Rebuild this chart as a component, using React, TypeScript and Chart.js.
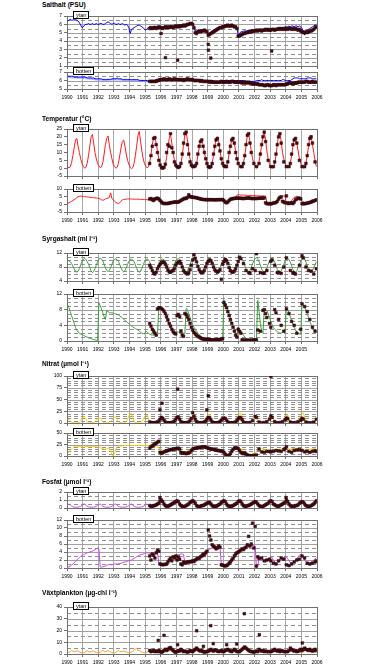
import React, { useEffect, useRef } from 'react';
import { Chart, registerables } from 'chart.js';
Chart.register(...registerables);

const FONT = 'Liberation Sans, Arial, sans-serif';
const YEAR_MIN = 1990;
const YEAR_MAX = 2006;
const LINE_START = 1990;
const OBS_START = 1995.25; // April 1995

// ---------- Salthalt (PSU) ----------
const SALT_YTAN_LINE = [
  6.4,6.5,6.6,6.5,6.5,6.6,6.6,6.5,6.4,6.2,5.9,5.6,
  5.7,5.9,6.0,6.0,6.1,6.0,6.0,6.1,6.0,6.0,6.1,6.0,
  6.0,6.1,6.1,6.0,6.0,6.1,6.2,6.3,6.2,6.1,6.0,6.1,
  6.1,6.0,6.0,6.1,6.0,6.0,6.1,6.0,5.9,6.0,5.9,5.6,
  4.9,5.4,5.5,5.6,5.7,5.8,5.9,5.9,5.8,5.7,5.6,5.4,
  5.3,5.5,5.6,5.7,5.7,5.6,5.7,5.8,5.7,5.6,5.7,5.8,
  5.7,5.6,5.7,5.8,5.7,5.8,5.7,5.8,5.8,5.7,5.8,5.9,
  5.8,5.9,5.9,6.0,5.9,6.0,6.0,6.0,6.1,6.1,6.1,6.2,
  6.1,5.8,5.2,5.1,5.3,5.3,5.2,5.3,5.3,5.4,5.3,5.2,
  4.8,4.9,5.1,5.2,5.3,5.4,5.5,5.6,5.6,5.7,5.7,5.8,
  5.8,5.8,5.9,5.9,5.9,5.8,5.9,5.9,5.8,5.8,5.6,4.7,
  4.9,5.1,5.1,5.2,5.2,5.2,5.2,5.3,5.2,5.3,5.3,5.3,
  5.3,5.4,5.3,5.4,5.4,5.3,5.4,5.4,5.5,5.4,5.5,5.4,
  5.4,5.5,5.5,5.4,5.5,5.5,5.6,5.5,5.6,5.6,5.6,5.7,
  5.7,5.7,5.8,5.7,5.8,5.8,5.7,5.8,5.8,5.7,5.8,5.7,
  5.5,5.2,4.7,5.0,5.3,5.4,5.5,5.6,5.7,5.8,5.9,6.0,
];
const SALT_YTAN_OBS = [
  5.5,5.6,5.5,5.6,5.6,5.5,5.6,5.7,5.6,
  5.6,5.5,5.6,5.7,5.6,5.7,5.6,5.7,5.7,5.6,5.7,5.8,
  5.7,5.8,5.7,5.8,5.8,5.9,5.8,5.9,6.0,6.0,6.1,6.1,
  6.0,5.6,5.0,4.9,5.1,5.2,5.1,5.2,5.2,5.3,5.2,5.1,
  4.7,4.8,4.9,5.0,5.1,5.2,5.3,5.4,5.5,5.6,5.6,5.7,
  5.7,5.8,5.8,5.9,5.8,5.8,5.9,5.8,5.7,5.7,5.5,4.6,
  4.6,4.7,4.8,4.9,4.9,5.0,5.0,5.1,5.1,5.1,5.2,5.2,
  5.2,5.3,5.2,5.3,5.3,5.2,5.3,5.3,5.4,5.3,5.4,5.3,
  5.3,5.4,5.4,5.3,5.4,5.4,5.5,5.4,5.5,5.4,5.5,5.4,
  5.5,5.4,5.5,5.5,5.4,5.5,5.4,5.5,5.4,5.3,5.4,5.2,
  5.1,5.0,5.0,5.1,5.0,5.1,5.2,5.2,5.3,5.4,5.6,5.7,
];
const SALT_YTAN_OUT_X = [1996.02, 1996.3, 1997.08, 1999.04, 1999.05, 1999.2, 2003.1];
const SALT_YTAN_OUT_Y = [4.9, 2.0, 1.7, 3.6, 2.9, 1.95, 2.8];

const SALT_BOT_LINE = [
  6.5,6.5,6.5,6.5,6.5,6.4,6.4,6.4,6.4,6.4,6.4,6.4,
  6.4,6.4,6.4,6.3,6.3,6.3,6.3,6.3,6.3,6.2,6.2,6.2,
  6.2,6.2,6.2,6.1,6.1,6.1,6.1,6.1,6.1,6.1,6.2,6.2,
  6.2,6.2,6.3,6.2,6.2,6.2,6.1,6.1,6.1,6.1,6.1,6.1,
  6.1,6.1,6.1,6.1,6.1,6.1,6.1,6.0,6.0,6.0,6.0,6.0,
  6.0,6.0,5.9,5.9,5.9,5.9,5.9,6.0,6.1,6.1,6.2,6.2,
  6.2,6.2,6.2,6.2,6.2,6.2,6.2,6.2,6.2,6.2,6.2,6.2,
  6.2,6.2,6.2,6.2,6.1,6.1,6.1,6.2,6.2,6.2,6.2,6.2,
  6.2,6.1,6.1,6.1,6.1,6.1,6.0,6.0,6.0,6.0,6.0,6.0,
  6.0,6.0,6.0,6.0,6.0,5.9,5.9,5.9,5.9,5.9,6.0,6.0,
  6.0,6.0,6.0,6.0,6.0,6.0,6.0,6.0,6.0,6.0,6.0,6.0,
  6.0,6.0,6.0,6.0,6.0,5.9,5.9,5.9,5.9,5.9,5.9,5.9,
  5.9,6.0,6.0,6.0,6.0,6.1,6.0,6.0,6.0,6.0,6.0,6.0,
  6.0,6.0,6.0,6.0,6.0,6.0,6.0,6.0,6.0,6.1,6.1,6.0,
  6.0,6.0,6.0,6.0,6.1,6.2,6.3,6.3,6.3,6.3,6.2,6.2,
  6.2,6.2,6.2,6.2,6.3,6.3,6.3,6.3,6.2,6.2,6.2,6.2,
];
const SALT_BOT_LIGHT_X = [1990.0, 1990.5, 1991.0, 1991.5, 1992.0, 1992.5, 1993.0, 1993.5, 1994.0, 1994.5, 1995.0, 1995.4];
const SALT_BOT_LIGHT_Y = [6.4, 6.35, 6.3, 6.2, 6.1, 6.1, 6.15, 6.1, 6.05, 6.0, 5.95, 5.9];
const SALT_BOT_OBS = [
  5.9,5.9,5.9,5.9,5.9,5.9,6.0,6.0,6.1,
  6.1,6.1,6.2,6.1,6.1,6.1,6.2,6.1,6.1,6.1,6.2,6.1,
  6.1,6.1,6.1,6.1,6.1,6.0,6.1,6.1,6.2,6.1,6.1,6.1,
  6.1,6.0,6.0,6.0,6.0,6.0,5.9,6.0,5.9,5.9,5.9,5.9,
  5.9,5.8,5.9,5.8,5.8,5.8,5.8,5.8,5.8,5.8,5.9,5.8,
  5.8,5.8,5.9,5.8,5.8,5.8,5.9,5.9,5.8,5.8,5.8,5.8,
  5.8,5.8,5.7,5.8,5.7,5.8,5.7,5.8,5.7,5.7,5.6,5.6,
  5.6,5.6,5.6,5.5,5.5,5.5,5.5,5.4,5.4,5.5,5.5,5.4,
  5.4,5.4,5.5,5.5,5.4,5.5,5.5,5.5,5.5,5.5,5.5,5.5,
  5.6,5.6,5.7,5.7,5.7,5.6,5.7,5.7,5.7,5.8,5.8,5.8,
  5.8,5.8,5.8,5.9,5.9,5.8,5.8,5.8,5.9,5.8,5.8,5.8,
];

// ---------- Temperatur (°C) ----------
const TEMP_YTAN_LINE = [
  1.0,0.2,0.8,3.5,8,13,18,19,14,10,6,3,
  1.2,0.0,0.5,3,8,14,20,21.5,16,10,6,3,
  1.5,0.3,0.8,3.5,9,15,19,20.5,15,10,6,2.5,
  1.0,0.0,0.5,3,8,13,17,18,14,9,5,2.5,
  0.5,-0.3,0.3,3,8,14,21,23.5,17,11,6,3,
  1.0,0.3,0.8,3.5,9,15,19,20,16,11,6,3,
  0.5,-0.5,0,2,7,13,19,21.5,16,10,5,2,
  0.5,0,0.5,3,8,15,21,23,18,11,6,3,
  1.5,0.5,1,3,8,13,17,18,15,10,6,3,
  1.0,0.2,0.5,3,8,14,19,20,17,11,6,3,
  1.5,0.5,1,4,9,14,18,19.5,16,11,6,3,
  1.0,0.3,0.5,3,8,14,21,22,17,11,6,3,
  1.0,0.2,0.8,4,9,15,21,23,18,11,6,2.5,
  0.5,0,0.3,3,8,15,21,22.5,17,10,6,3,
  1.0,0.3,0.5,3,8,14,18,19.5,16,11,6,3,
  1.0,0,0.3,3,8,14,20,21,15,10,5,1,
];
const TEMP_YTAN_OBS = [
  3,8,14,19,19.5,15,10,5,2,
  0.5,0,0.5,2.5,10,15,14,22,13,10,4,2,
  1,0.5,1,3,9,16,22,23,15,9,4,2,
  1,1,1.5,3,9,14,17,18,14,10,6,3,
  1,0.5,1,3,9,14,18,19,15,11,6,3,
  1.5,1,1,4,10,14,18,19,16,10,6,3,
  null,1,1,3,8,15,21,22,16,10,null,3,
  null,1,null,3,9,15,20,23,17,null,5,null,
  1,null,1,4,9,15,20,22,16,null,4,null,
  1,null,1,3,9,15,18,19,16,null,5,null,
  1,null,1,3,8,15,19,20,16,null,4,null,
];
const TEMP_BOT_LINE = [
  0.5,1,1.5,2,2.5,3,3.5,4.5,5,5.2,5.4,5.3,
  5.2,5,5,4.8,4.8,4.6,4.5,4.4,4.3,4.2,4.1,4,
  3.8,3.5,3,2.6,3,3.5,3.8,4,4.5,7.5,3.8,3,
  2,1.2,0.8,0.5,1,2,3,3.2,3.3,3.4,3.5,3.5,
  3.5,3.5,3.4,3.4,3.3,3.3,3.4,3.3,3.2,3.2,3.2,3.2,
  3.1,3,3,3,3.2,3.5,3.8,4,4.2,4,3.5,3,
  2.5,1.5,0.8,0.5,0.5,0.6,0.8,1,1.2,1.5,1.6,1.8,
  1.5,1.4,2,3,3.5,3.8,4,4.2,4.5,4.8,5,5.5,
  5,4.8,4.7,4.6,4.5,4.5,4,3.5,3.2,3,3,3,
  3,3,3,3,3,3,3,3,3.2,3.3,3.3,3.3,
  3,1.5,1,1.5,2.5,3.3,3.6,3.8,4,4.5,6,6.3,
  6.2,6.1,6,6,6,5.9,5.8,5.8,5.8,5.8,5.7,5.7,
  5.7,5.6,5.6,5.5,5.5,5.5,5.5,5.4,5.4,1.5,0.5,0,
  -0.5,0.5,1,1.5,2,2.5,3.5,5,5.5,5.5,5.5,5.3,
  0,-0.5,0.5,1.5,2.5,3.5,4.5,5,5.3,4.5,3.5,3,
  2.5,1.5,1,0.5,0.5,1,1.5,2,2.5,2.5,3,3,
];
const TEMP_BOT_OBS = [
  3.5,3.8,3,2.5,3.5,3.8,4,3.5,2.5,
  1.5,0.8,0.5,0.5,0.6,0.5,0.8,1,1.2,1.3,1.5,1.5,
  1.4,1.5,2,2.5,3,3.5,4,3.8,4.5,6.2,5,4.8,
  4.7,4.5,4.5,4.2,4,3.8,3.5,3.3,3.2,3.1,3,3,
  3,3,3,3,3,2.9,3,3,3,3,3.1,3.1,
  2.5,1.5,1,1.5,2.5,3.3,3.5,3.8,3.8,4,4,4,
  4,4,3.8,3.8,3.9,4,4,4.2,4,3.8,3.8,3.8,
  3.8,3.8,3.9,4,4,4.1,4,4.2,1,0.5,0.3,0.5,
  0.3,0.5,0.8,1,1.2,2,3.5,4.5,4.8,2,1.5,1,
  5.5,1,0.5,0.8,1,0.5,1.5,3,3.5,4,4,3.5,
  0.5,0.3,0.5,0.5,0.8,1,1.2,1.5,2,2.2,2.5,3,
];

// ---------- Syrgashalt (ml l-1) ----------
const SYR_YTAN_LINE = [
  9.9,9.8,9.5,9.0,8.3,7.5,6.8,6.5,6.8,7.6,8.6,9.6,
  10.2,10.4,10.2,9.6,8.8,7.8,6.9,6.4,6.7,7.5,8.5,9.5,
  10.2,10.5,10.3,9.7,8.8,7.8,7.0,6.7,7.0,7.8,8.8,9.7,
  10.2,10.3,10.1,9.6,8.7,7.7,7.0,6.6,6.9,7.7,8.7,9.6,
  10.1,10.2,10.0,9.5,8.6,7.6,6.8,6.5,6.8,7.6,8.6,9.5,
  10.0,10.3,10.1,9.5,8.6,7.6,6.8,6.6,6.9,7.7,8.7,9.6,
  10.1,10.3,10.1,9.5,8.6,7.5,6.8,6.5,6.9,7.8,8.8,9.7,
  10.2,10.4,10.2,9.5,8.5,7.4,6.7,6.5,6.9,7.8,8.8,9.7,
  10.3,10.6,10.3,9.6,8.6,7.5,6.8,6.6,7.0,7.9,8.8,9.7,
  10.2,10.4,10.2,9.5,8.5,7.4,6.7,6.5,6.9,7.8,8.8,9.7,
  10.2,10.4,10.2,9.5,8.5,7.4,6.7,6.5,6.9,7.8,8.8,9.7,
  10.3,10.5,10.2,9.5,8.5,7.4,6.7,6.6,7.0,7.9,8.9,9.8,
  10.4,10.6,10.3,9.5,8.5,7.4,6.7,6.5,6.9,7.8,8.8,9.7,
  10.2,10.4,10.1,9.4,8.4,7.3,6.7,6.5,6.9,7.8,8.8,9.7,
  10.2,10.4,10.1,9.4,8.4,7.3,6.7,6.5,6.9,7.8,8.8,9.7,
  10.3,10.6,10.2,9.4,8.4,7.3,6.7,6.5,6.9,7.8,8.7,9.5,
];
const SYR_YTAN_OBS = [
  8.5,7.8,7.0,6.2,6.0,6.5,7.5,8.2,8.8,
  9.2,9.5,9.3,8.8,8.0,7.2,6.6,6.5,6.8,7.0,7.5,8.5,
  9.0,9.4,9.6,9.0,8.0,7.0,6.5,6.2,6.0,6.3,7.2,8.5,
  10.0,11.5,10.5,9.5,8.2,7.2,6.6,6.4,6.5,7.0,8.0,9.0,
  9.6,10.0,9.8,9.0,8.0,7.2,6.8,6.5,6.8,7.2,4.5,8.8,
  9.5,10.2,9.8,9.0,7.8,7.0,6.6,6.5,6.8,7.5,8.5,9.6,
  10.8,10.4,null,9.0,null,7.0,null,6.4,6.2,null,7.5,null,
  7.0,11.8,null,null,6.4,null,6.2,6.3,null,7.0,null,null,
  9.6,10.0,null,8.5,null,6.4,6.5,null,6.2,null,8.0,null,
  10.6,null,null,7.0,null,6.4,6.2,6.0,null,null,8.5,null,
  11.2,10.6,null,8.0,null,7.0,null,6.8,null,6.0,null,7.5,
];
const SYR_BOT_LINE = [
  9.2,8.5,7.5,6.5,5.5,4.5,3.5,2.8,2.3,2.0,1.8,1.6,
  1.5,1.3,1.1,1.0,0.8,0.7,0.6,0.5,0.4,0.3,0.2,0.1,
  9.8,9.0,8.2,7.2,6.2,5.5,7.8,7.5,7.3,7.2,7.2,7.1,
  7.0,6.9,6.8,6.6,6.4,6.2,5.9,5.6,5.3,5.0,4.7,4.4,
  4.1,3.8,3.6,3.4,3.2,3.0,2.8,2.5,2.2,2.0,1.9,1.8,
  2.5,2.3,2.0,1.8,1.6,1.5,1.5,1.6,1.8,2.0,8.6,8.5,
  8.4,8.3,8.0,7.0,6.0,5.0,4.2,3.5,3.0,2.6,2.4,2.3,
  2.3,2.3,2.2,2.1,2.1,2.0,1.8,8.3,8.0,7.0,6.0,5.0,
  4.2,3.5,3.0,2.5,2.0,1.6,1.3,1.0,0.8,0.6,0.5,0.4,
  0.3,0.3,0.2,0.2,0.2,0.2,0.3,0.3,0.3,0.4,0.4,0.5,
  10.5,9.8,9.0,8.0,7.0,6.0,5.0,4.0,3.0,2.2,1.5,3.5,
  3.0,2.5,2.0,1.5,1.0,0.6,0.4,0.3,0.2,0.2,0.3,0.3,
  0.4,0.5,10.4,7.5,4.5,2.5,2.0,8.0,8.1,7.8,7.0,6.0,
  5.0,4.2,3.5,3.0,2.7,2.4,2.2,2.0,2.0,2.2,2.5,2.8,
  8.5,8.0,7.2,6.2,5.2,4.3,3.5,2.8,2.3,2.0,1.8,1.7,
  9.5,9.2,8.6,7.8,7.0,6.0,5.0,4.2,3.5,3.0,2.7,2.5,
];
const SYR_BOT_OBS = [
  4.5,3.8,3.0,2.5,2.0,1.5,8.2,8.5,8.4,
  8.3,8.0,7.6,7.0,6.2,5.4,4.5,3.8,3.0,2.4,2.0,1.8,
  6.5,6.8,6.2,2.5,1.5,1.2,7.0,6.8,6.2,5.5,4.5,3.5,
  2.8,2.2,1.8,1.5,1.2,1.0,0.8,0.6,0.5,0.5,0.4,0.5,
  0.4,0.3,0.3,0.3,0.2,0.3,0.3,0.4,0.3,0.4,0.5,0.6,
  9.8,9.2,8.5,7.5,6.5,5.5,4.5,3.5,2.5,1.5,1.0,3.0,
  2.5,2.0,0.3,0.2,0.2,0.2,0.2,0.2,0.2,0.2,0.2,0.3,
  0.2,0.3,2.8,null,2.5,null,7.8,8.0,7.0,6.0,null,4.5,
  3.5,null,null,8.0,7.2,null,5.5,null,4.0,null,2.5,null,
  8.2,null,7.0,null,5.0,null,4.0,null,2.0,null,null,3.0,
  9.5,null,8.8,null,7.5,null,5.5,null,3.5,null,2.5,null,
];

// ---------- Nitrat (µmol l-1) ----------
const NIT_YTAN_LINE = [
  7,8,5,2,0.5,0.3,0.2,0.3,1,2,5,10,
  13,14,9,3,0.5,0.3,0.2,0.3,1,3,6,9,
  10,11,7,2.5,0.5,0.3,0.2,0.3,1,3,6,10,
  12,13,8,3,0.5,0.3,0.2,0.3,1,3,8,15,
  19,20,12,4,1,0.3,0.2,0.3,1,3,7,13,
  16,17,10,3,0.5,0.3,0.2,0.3,1,2.5,5,8,
  9,10,6,2,0.5,0.3,0.2,0.3,1,3,6,10,
  12,13,8,3,0.5,0.3,0.2,0.3,1,3,6,9,
  11,12,7,2.5,0.5,0.3,0.2,0.3,1,3,8,15,
  18,19,12,4,1,0.3,0.2,0.3,1,3,6,10,
  11,12,7,2.5,0.5,0.3,0.2,0.3,1,3,8,16,
  20,21,13,4,1,0.3,0.2,0.3,1,3,6,10,
  12,13,8,3,0.5,0.3,0.2,0.3,1,3,7,13,
  16,17,10,3,0.5,0.3,0.2,0.3,1,3,7,13,
  16,17,10,3,0.5,0.3,0.2,0.3,1,3,8,16,
  20,21,13,4,1,0.3,0.2,0.3,1,3,6,9,
];
const NIT_YTAN_OBS = [
  2,1,0.5,0.5,0.5,1,2,4,8,
  12,10,6,2,0.5,0.5,0.5,0.5,1,2,4,8,
  12,13,8,3,1,0.5,0.5,0.5,1,2,5,10,
  22,14,8,3,1,0.5,0.5,0.5,1,2,4,8,
  12,11,7,2,0.5,0.5,0.5,0.5,1,3,6,9,
  10,10,6,2,0.5,0.5,0.5,0.5,1,2,5,9,
  12,11,7,2,null,0.5,0.5,null,1,null,5,null,
  14,12,null,2,null,0.5,null,1,null,3,null,8,
  15,12,null,3,null,0.5,null,1,null,3,null,7,
  10,9,null,2,null,0.5,null,1,null,3,null,6,
  10,8,null,2,null,0.5,null,0.5,null,2,null,8,
];
const NIT_YTAN_OUT_X = [1995.95, 1996.08, 1997.08, 1998.95, 1999.04, 2003.05];
const NIT_YTAN_OUT_Y = [28, 42, 72, 28, 58, 99];
const NIT_BOT_LINE = [
  6,9,12,15,18,20,21,20,20,21,20,20,
  20,20,21,21,20,20,20,21,21,21,20,20,
  19,18,17,16,15,15,16,17,18,12,3,0,
  5,15,20,21,22,22,22,22,23,23,23,23,
  23,23,23,23,23,23,23,23,23,23,23,23,
  23,23,23,23,22,22,22,21,20,19,18,15,
  10,8,9,10,12,13,14,15,15,16,16,16,
  15,12,10,8,7,8,9,10,11,12,13,14,
  15,16,17,18,18,19,19,19,19,18,18,17,
  17,16,16,15,15,14,14,13,13,12,12,12,
  11,8,5,2,3,6,9,12,15,17,18,18,
  17,16,14,10,7,5,4,3,3,3,4,5,
  6,10,14,16,17,17,16,15,14,13,13,13,
  12,12,12,13,13,14,14,15,15,15,16,16,
  16,16,15,15,15,16,16,17,17,17,16,16,
  15,14,13,12,12,13,14,15,16,17,16,14,
];
const NIT_BOT_OBS = [
  17,20,22,24,26,28,30,32,8,
  6,7,9,10,11,12,13,14,14,15,15,16,
  16,17,15,8,6,7,6,5,6,7,8,12,
  15,16,17,17,18,18,19,19,20,20,19,18,
  17,16,15,15,14,14,13,12,12,11,11,10,
  8,4,1,0.5,2,5,10,14,17,18,17,16,
  12,8,6,5,7,4,2,1,0.5,0.5,1,1,
  1,2,null,15,null,9,null,8,null,10,null,10,
  9,null,10,null,12,null,11,null,10,null,14,16,
  20,null,10,null,8,null,12,null,13,null,14,null,
  12,null,9,null,10,null,8,null,10,null,11,10,
];

// ---------- Fosfat (µmol l-1) ----------
const FOS_YTAN_LINE = [
  0.35,0.5,0.4,0.25,0.15,0.1,0.1,0.1,0.1,0.15,0.2,0.3,
  0.45,0.5,0.35,0.2,0.15,0.1,0.1,0.1,0.1,0.15,0.2,0.3,
  0.45,0.5,0.35,0.2,0.15,0.1,0.1,0.1,0.1,0.15,0.2,0.3,
  0.45,0.5,0.35,0.2,0.15,0.1,0.1,0.1,0.1,0.15,0.2,0.3,
  0.45,0.5,0.35,0.2,0.15,0.1,0.1,0.1,0.1,0.15,0.2,0.3,
  0.45,0.5,0.35,0.2,0.15,0.15,0.15,0.2,0.25,0.35,0.45,0.6,
  0.7,0.8,0.6,0.35,0.2,0.15,0.15,0.2,0.25,0.35,0.45,0.6,
  0.7,0.75,0.55,0.3,0.2,0.15,0.15,0.2,0.25,0.35,0.5,0.6,
  0.75,0.8,0.6,0.35,0.2,0.15,0.15,0.2,0.25,0.35,0.45,0.6,
  0.7,0.75,0.55,0.3,0.2,0.15,0.15,0.2,0.25,0.35,0.5,0.65,
  0.75,0.8,0.6,0.35,0.2,0.15,0.15,0.2,0.25,0.35,0.5,0.65,
  0.8,0.85,0.6,0.35,0.2,0.15,0.15,0.2,0.25,0.35,0.5,0.7,
  0.85,0.9,0.6,0.35,0.2,0.15,0.15,0.2,0.25,0.35,0.5,0.65,
  0.75,0.8,0.6,0.35,0.2,0.15,0.15,0.2,0.25,0.35,0.5,0.65,
  0.8,0.85,0.6,0.35,0.2,0.15,0.15,0.2,0.25,0.35,0.5,0.65,
  0.8,0.85,0.6,0.35,0.2,0.15,0.15,0.2,0.25,0.35,0.5,0.7,
];
const FOS_YTAN_OBS = [
  0.3,0.2,0.2,0.3,0.3,0.4,0.5,0.6,0.9,
  1.0,0.8,0.5,0.3,0.2,0.2,0.3,0.4,0.5,0.6,0.7,0.8,
  0.9,0.8,0.5,0.3,0.2,0.2,0.2,0.3,0.4,0.5,0.7,0.8,
  0.9,0.8,0.6,0.3,0.2,0.2,0.2,0.3,0.3,0.4,0.5,0.6,
  0.7,0.7,0.5,0.3,0.2,0.2,0.2,0.3,0.4,0.5,0.7,0.8,
  0.9,0.8,0.5,0.3,0.2,0.2,0.2,0.3,0.4,0.5,0.6,0.8,
  0.9,0.8,0.5,0.3,0.2,0.2,0.3,0.3,0.4,0.5,0.6,0.7,
  0.8,0.7,0.5,0.3,0.2,0.2,0.2,0.3,0.4,0.5,0.6,0.8,
  0.9,0.8,0.5,0.4,0.3,0.2,0.2,0.3,0.4,0.5,0.6,0.7,
  1.0,0.8,0.5,0.3,0.2,0.2,0.2,0.3,0.3,0.4,0.6,0.7,
  0.8,0.7,0.5,0.3,0.2,0.2,0.2,0.3,0.4,0.5,0.7,0.9,
];
const FOS_YTAN_OUT_X = [1995.95, 2004.02];
const FOS_YTAN_OUT_Y = [1.3, 1.3];
const FOS_BOT_LINE = [
  0.2,0.3,0.5,0.7,1.0,1.3,1.6,2.0,2.3,2.6,2.9,3.1,
  3.3,3.5,3.6,3.8,3.9,4.0,4.1,4.2,4.4,4.6,4.8,5.0,
  4.8,0.3,0.2,0.3,0.4,0.5,0.6,0.8,0.9,0.8,0.8,0.9,
  1.0,1.0,1.0,1.1,1.1,1.2,1.3,1.4,1.5,1.6,1.7,1.8,
  1.9,2.0,2.2,2.4,2.6,2.8,3.0,3.2,3.3,3.4,3.5,3.6,
  3.7,3.8,3.8,3.7,3.6,3.7,3.8,3.9,4.0,4.0,1.0,0.9,
  0.9,0.9,0.9,1.0,1.2,1.5,1.8,2.1,2.4,2.7,2.9,3.1,
  3.2,3.3,3.4,3.5,3.5,3.4,1.2,1.4,1.6,1.7,1.8,1.9,
  1.9,2.0,2.0,2.1,2.3,2.5,2.8,3.1,3.4,3.7,4.0,4.3,
  4.5,4.7,4.9,5.0,5.1,5.2,5.3,5.3,5.4,5.4,0.9,0.8,
  0.7,0.6,0.6,0.7,1.0,1.4,1.8,2.2,2.6,3.0,3.4,3.8,
  4.1,4.4,4.6,4.8,5.0,5.1,5.2,5.3,5.4,5.5,5.6,5.6,
  5.5,0.0,0.5,2.3,2.6,2.4,2.0,1.6,1.4,1.6,2.0,2.5,
  2.8,2.6,2.0,1.5,1.2,1.2,1.4,1.7,2.0,2.3,2.6,2.8,
  2.7,2.3,1.8,1.4,1.2,1.3,1.6,2.0,2.4,2.8,3.2,3.4,
  3.2,2.6,2.0,1.5,1.2,1.1,1.2,1.4,1.7,2.0,2.3,2.6,
];
const FOS_BOT_OBS = [
  3.0,2.0,3.5,3.2,2.5,3.8,4.5,4.2,1.0,
  0.9,0.8,0.9,0.9,1.0,1.5,2.0,2.5,1.8,2.8,2.5,3.0,
  2.0,2.8,2.2,1.0,0.8,1.5,1.2,1.4,1.5,1.6,1.5,1.6,
  1.8,1.6,2.0,2.2,2.5,2.4,2.8,3.0,3.5,3.2,3.8,4.2,
  9.5,8.0,7.0,5.8,5.4,5.2,4.8,5.0,5.5,5.2,0.8,0.7,
  0.6,0.5,0.6,0.8,1.2,1.5,2.0,2.4,3.0,3.5,3.8,4.0,
  4.2,4.5,4.8,4.6,5.0,5.2,5.8,7.9,5.5,6.0,11.2,5.0,
  10.4,0.5,2.8,2.4,null,2.5,null,1.8,null,2.0,null,2.2,
  1.8,null,1.2,null,1.0,null,1.8,null,2.5,null,2.2,null,
  0.8,null,0.6,null,1.0,null,1.5,null,2.0,null,2.2,null,
  3.0,null,2.5,null,1.2,null,1.0,null,1.2,null,1.5,1.8,
];

// ---------- Växtplankton (µg-chl l-1) ----------
const VAX_LINE = [
  1.5,1.2,2.0,3.0,2.5,2.0,2.2,2.8,2.4,1.8,1.2,1.0,
  1.0,1.2,2.2,2.8,2.0,1.8,2.0,2.6,2.2,1.6,1.2,1.0,
  1.2,1.4,2.5,3.2,2.4,2.0,2.4,3.0,2.4,1.8,1.3,1.1,
  1.0,1.3,2.4,3.0,2.2,1.9,2.2,2.7,2.3,1.7,1.2,1.0,
  1.1,1.4,2.6,3.5,4.0,5.2,3.2,2.8,2.4,1.8,1.3,1.1,
  1.2,1.5,2.5,3.2,2.5,2.1,2.4,2.9,2.4,1.8,1.3,1.1,
  1.1,1.4,2.6,3.4,2.6,2.2,2.5,3.0,2.5,1.8,1.3,1.1,
  1.2,1.5,2.7,3.3,2.5,2.1,2.5,3.1,2.6,1.9,1.4,1.2,
  1.2,1.5,2.6,3.2,2.5,2.2,2.6,3.0,2.5,1.8,1.3,1.1,
  1.1,1.4,2.5,3.1,2.4,2.0,2.4,2.9,2.4,1.8,1.3,1.1,
  1.2,1.5,2.7,3.4,2.6,2.2,2.5,3.0,2.5,1.9,1.4,1.2,
  1.3,1.6,3.0,3.8,4.5,3.5,3.0,3.4,2.8,2.0,1.5,1.2,
  1.3,1.6,2.8,3.5,2.8,2.4,2.7,3.2,2.6,1.9,1.4,1.2,
  1.2,1.5,2.6,3.3,2.6,2.2,2.5,3.0,2.5,1.8,1.3,1.1,
  1.2,1.5,2.7,3.5,2.8,2.3,2.6,3.1,2.6,1.9,1.4,1.2,
  1.3,1.6,2.8,3.6,2.8,2.4,2.7,3.2,2.6,1.9,1.4,1.2,
];
const VAX_OBS = [
  3,2,2.5,3,2,2.5,2,3,2,
  1.5,2,3,4,3,4,5,5.5,4,3,2,1.5,
  2,3,2.5,4,3,2,2.5,2,1.5,2,3,2.5,
  2,3,4,5,4,3,2.5,3,2,1.5,2,2,
  2.5,3,4,3,2.5,3.5,3,2.5,2,2.5,3,2,
  2,3,3.5,4,3,2.5,2,3,4,3,2,2,
  2,3,4,5,6,5,4,3,2.5,2,2,1.5,
  2,2.5,2,4,3,2.5,3,2,2.5,2,2,2,
  2,2.5,3,4,3,2.5,3,2,3,2.5,2,2,
  2,2,3,5,4,3,2.5,3,2,2.5,3,4,
  3,4,5,4,3.5,3,4,3,2.5,3,4,3,
];
const VAX_OUT_X = [1995.84, 1996.21, 1997.08, 1998.3, 1998.73, 1999.2, 1999.36, 2000.22, 2000.86, 2001.35, 2002.31, 2005.06];
const VAX_OUT_Y = [11.6, 15.9, 7.9, 19.8, 6.5, 24.1, 8.8, 7.9, 8.5, 34.3, 16.4, 9.4];

// ---------- helpers ----------
type Pt = { x: number; y: number | null };
const monthly = (start: number, vals: (number | null)[]): Pt[] =>
  vals.map((v, i) => ({ x: start + (i + 0.5) / 12, y: v }));
const pairs = (xs: number[], ys: number[]): Pt[] => xs.map((x, i) => ({ x, y: ys[i] }));

const POINT_COLOR = '#4a0c12';
const PT = 6; // padding above plot

type Panel = {
  top: number; bottom: number; min: number; max: number; step: number;
  major: number; minor: number; labels: boolean; hideLast?: boolean;
  lines: { data: Pt[]; color: string; width?: number }[];
  obs: Pt[];
  box: string;
};

const PANELS: Panel[] = [
  { top: 16, bottom: 66, min: 1, max: 7, step: 1, major: 1, minor: 0.5, labels: false, box: 'ytan',
    lines: [{ data: monthly(LINE_START, SALT_YTAN_LINE), color: '#0000ff' }],
    obs: [...monthly(OBS_START, SALT_YTAN_OBS), ...pairs(SALT_YTAN_OUT_X, SALT_YTAN_OUT_Y)] },
  { top: 72, bottom: 89, min: 5, max: 7, step: 1, major: 1, minor: 0.5, labels: true, box: 'botten',
    lines: [{ data: monthly(LINE_START, SALT_BOT_LINE), color: '#0000ff' },
            { data: pairs(SALT_BOT_LIGHT_X, SALT_BOT_LIGHT_Y), color: 'rgba(120,140,255,0.6)', width: 2 }],
    obs: monthly(OBS_START, SALT_BOT_OBS) },
  { top: 129, bottom: 176, min: -5, max: 25, step: 5, major: 0, minor: 0, labels: false, box: 'ytan',
    lines: [{ data: monthly(LINE_START, TEMP_YTAN_LINE), color: '#ff1a1a' }],
    obs: monthly(OBS_START, TEMP_YTAN_OBS) },
  { top: 189, bottom: 212, min: -5, max: 10, step: 5, major: 0, minor: 0, labels: true, box: 'botten',
    lines: [{ data: monthly(LINE_START, TEMP_BOT_LINE), color: '#ff1a1a' }],
    obs: monthly(OBS_START, TEMP_BOT_OBS) },
  { top: 253, bottom: 281, min: 4, max: 12, step: 4, major: 4, minor: 1, labels: false, box: 'ytan',
    lines: [{ data: monthly(LINE_START, SYR_YTAN_LINE), color: '#3aa03a' }],
    obs: monthly(OBS_START, SYR_YTAN_OBS) },
  { top: 294, bottom: 341, min: 0, max: 12, step: 4, major: 4, minor: 1, labels: true, hideLast: true, box: 'botten',
    lines: [{ data: monthly(LINE_START, SYR_BOT_LINE), color: '#3aa03a' }],
    obs: monthly(OBS_START, SYR_BOT_OBS) },
  { top: 376, bottom: 423, min: 0, max: 100, step: 25, major: 25, minor: 5, labels: false, box: 'ytan',
    lines: [{ data: monthly(LINE_START, NIT_YTAN_LINE), color: '#f2d000' }],
    obs: [...monthly(OBS_START, NIT_YTAN_OBS), ...pairs(NIT_YTAN_OUT_X, NIT_YTAN_OUT_Y)] },
  { top: 433, bottom: 456, min: 0, max: 50, step: 25, major: 25, minor: 5, labels: true, box: 'botten',
    lines: [{ data: monthly(LINE_START, NIT_BOT_LINE), color: '#f2d000' }],
    obs: monthly(OBS_START, NIT_BOT_OBS) },
  { top: 492, bottom: 508, min: 0, max: 2, step: 1, major: 1, minor: 0.5, labels: false, box: 'ytan',
    lines: [{ data: monthly(LINE_START, FOS_YTAN_LINE), color: '#cc44ee' }],
    obs: [...monthly(OBS_START, FOS_YTAN_OBS), ...pairs(FOS_YTAN_OUT_X, FOS_YTAN_OUT_Y)] },
  { top: 520, bottom: 568, min: 0, max: 12, step: 2, major: 2, minor: 1, labels: true, box: 'botten',
    lines: [{ data: monthly(LINE_START, FOS_BOT_LINE), color: '#cc44ee' }],
    obs: monthly(OBS_START, FOS_BOT_OBS) },
  { top: 607, bottom: 654, min: 0, max: 40, step: 10, major: 10, minor: 5, labels: true, box: 'ytan',
    lines: [{ data: monthly(LINE_START, VAX_LINE), color: '#ff9a2e' }],
    obs: [...monthly(OBS_START, VAX_OBS), ...pairs(VAX_OUT_X, VAX_OUT_Y)] },
];

const TITLES = [
  { text: 'Salthalt (PSU)', y: 5 },
  { text: 'Temperatur (°C)', y: 119 },
  { text: 'Syrgashalt (ml l⁻¹)', y: 239 },
  { text: 'Nitrat (µmol l⁻¹)', y: 364 },
  { text: 'Fosfat (µmol l⁻¹)', y: 482 },
  { text: 'Växtplankton (µg-chl l⁻¹)', y: 593 },
];

const hgridPlugin = {
  id: 'hgrid',
  beforeDatasetsDraw(chart: any, _a: any, opts: any) {
    const { ctx, chartArea: a, scales } = chart;
    const y = scales.y;
    ctx.save();
    if (opts.minor > 0) {
      const n = Math.round((opts.max - opts.min) / opts.minor);
      for (let k = 1; k < n; k++) {
        const v = opts.min + k * opts.minor;
        const isMajor = Math.abs(v / opts.major - Math.round(v / opts.major)) < 1e-6;
        const py = Math.round(y.getPixelForValue(v)) + 0.5;
        ctx.beginPath();
        ctx.lineWidth = 1;
        ctx.strokeStyle = isMajor ? '#a0a0a0' : '#909090';
        ctx.setLineDash(isMajor ? [] : [4, 3]);
        ctx.moveTo(a.left, py);
        ctx.lineTo(a.right, py);
        ctx.stroke();
      }
    }
    ctx.setLineDash([]);
    ctx.strokeStyle = '#707070';
    ctx.lineWidth = 1;
    ctx.strokeRect(Math.round(a.left) + 0.5, Math.round(a.top) + 0.5, Math.round(a.right - a.left), Math.round(a.bottom - a.top));
    ctx.restore();
  },
};

function PanelChart({ p }: { p: Panel }) {
  const ref = useRef<HTMLCanvasElement>(null);
  const xh = p.labels ? 16 : 5;
  const h = p.bottom - p.top + PT + xh;
  useEffect(() => {
    const datasets: any[] = [
      {
        data: p.obs, showLine: false, pointStyle: 'rect', pointRadius: 1.9,
        pointBackgroundColor: POINT_COLOR, pointBorderColor: '#2a0508', pointBorderWidth: 0.5,
      },
      ...p.lines.map((l) => ({
        data: l.data, borderColor: l.color, borderWidth: l.width ?? 1, pointRadius: 0, tension: 0, fill: false,
      })),
    ];
    const chart = new Chart(ref.current!, {
      type: 'line',
      data: { datasets },
      plugins: [hgridPlugin],
      options: {
        animation: false,
        responsive: false,
        maintainAspectRatio: false,
        devicePixelRatio: 1,
        layout: { padding: { top: PT, right: 49, left: 0, bottom: 0 } },
        plugins: {
          legend: { display: false },
          tooltip: { enabled: false },
          hgrid: { min: p.min, max: p.max, major: p.major, minor: p.minor },
        } as any,
        scales: {
          x: {
            type: 'linear', min: YEAR_MIN, max: YEAR_MAX,
            afterFit: (s: any) => { s.height = xh; },
            grid: { color: '#a8a8a8', lineWidth: 1, drawTicks: true, tickLength: 3, tickColor: '#707070' },
            border: { display: false },
            ticks: {
              display: p.labels, stepSize: 1, autoSkip: false, maxRotation: 0, padding: 3,
              color: '#000', font: { family: FONT, size: 5 },
              callback: (v: any) => (p.hideLast && v === YEAR_MAX ? '' : String(v)),
            },
          },
          y: {
            min: p.min, max: p.max,
            afterFit: (s: any) => { s.width = 67; },
            grid: { drawOnChartArea: false, drawTicks: true, tickLength: 3, tickColor: '#707070' },
            border: { display: false },
            ticks: { stepSize: p.step, autoSkip: false, padding: 2, color: '#000', font: { family: FONT, size: 5 } },
          },
        },
      } as any,
    });
    return () => chart.destroy();
  }, []);
  return (
    <canvas
      ref={ref}
      width={366}
      height={h}
      style={{ position: 'absolute', left: 0, top: p.top - PT, width: 366, height: h, display: 'block' }}
    />
  );
}

export default function App() {
  return (
    <div style={{ position: 'absolute', left: 0, top: 0, width: 366, height: 669, background: '#fff', overflow: 'hidden' }}>
      {PANELS.map((p, i) => <PanelChart key={i} p={p} />)}
      {PANELS.map((p, i) => (
        <div key={'b' + i} style={{
          position: 'absolute', left: 73, top: p.top - 5, height: 8, padding: '0 2px',
          border: '1px solid #000', background: '#fff', font: `5.5px ${FONT}`, lineHeight: '7px',
          boxSizing: 'border-box', color: '#000', whiteSpace: 'nowrap',
        }}>{p.box}</div>
      ))}
      {TITLES.map((t, i) => (
        <div key={'t' + i} style={{
          position: 'absolute', left: 42, top: t.y - 4, font: `bold 6.6px ${FONT}`, lineHeight: '8px',
          color: '#000', whiteSpace: 'nowrap',
        }}>{t.text}</div>
      ))}
    </div>
  );
}
